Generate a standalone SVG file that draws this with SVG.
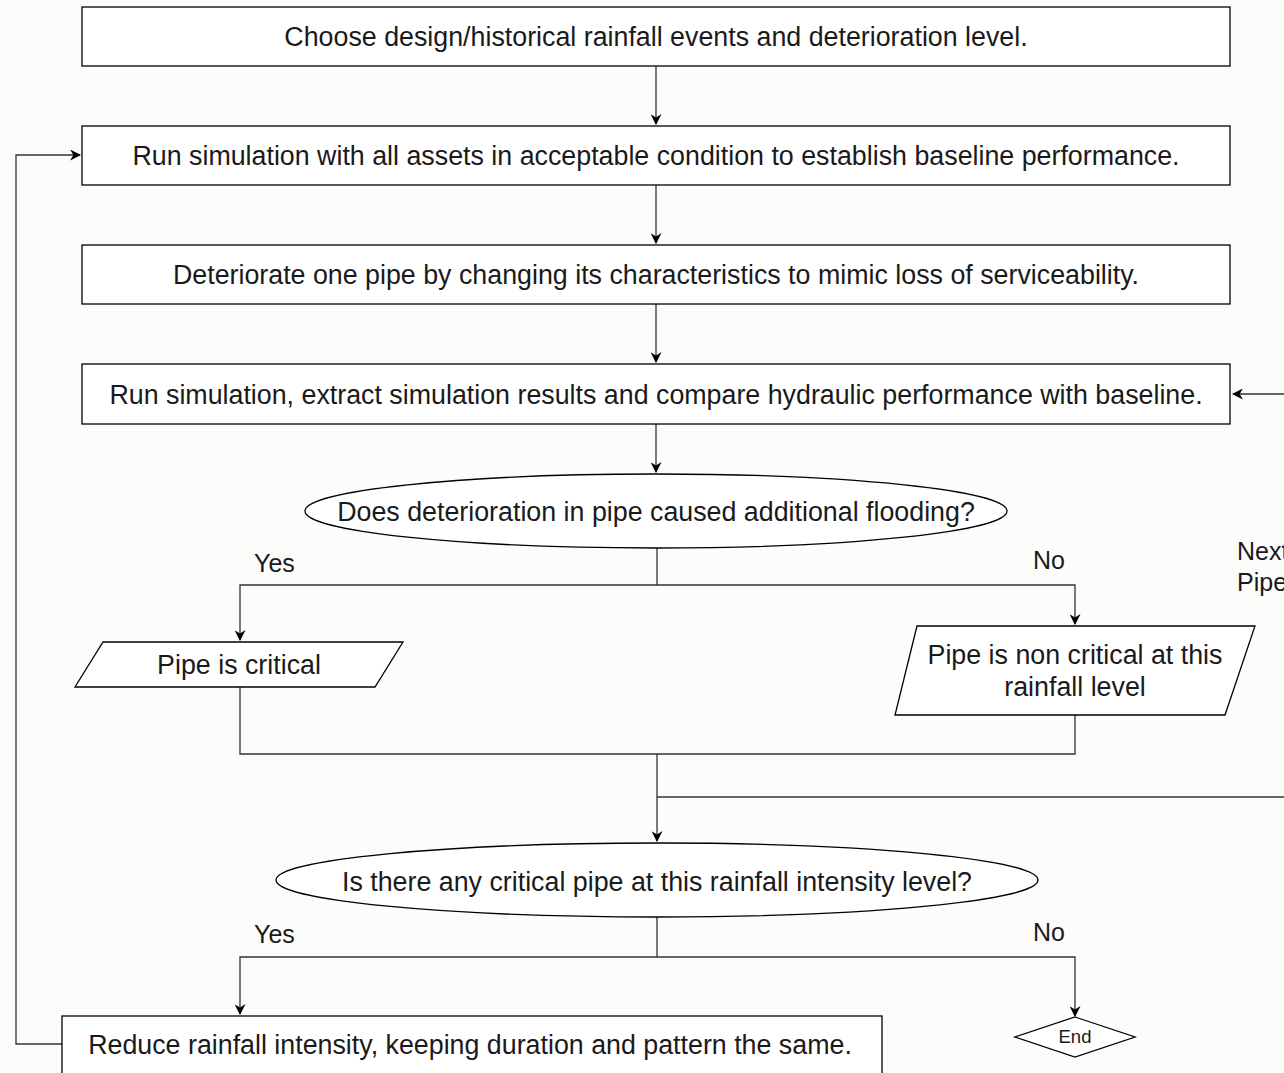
<svg xmlns="http://www.w3.org/2000/svg" width="1284" height="1073" viewBox="0 0 1284 1073">
<defs>
<marker id="arr" viewBox="0 0 10 10" refX="9" refY="5" markerWidth="11" markerHeight="11" markerUnits="userSpaceOnUse" orient="auto">
<path d="M0,0 L10,5 L0,10 L3,5 Z" fill="#000"/>
</marker>
<style>
.box{fill:#fff;stroke:#000;stroke-width:1.3}
.t{font-family:"Liberation Sans",Arial,sans-serif;font-size:26.8px;fill:#1a1a1a;text-anchor:middle}
.l{font-family:"Liberation Sans",Arial,sans-serif;font-size:25px;fill:#1a1a1a}
.c{fill:none;stroke:#333;stroke-width:1.3}
</style>
</defs>
<rect width="1284" height="1073" fill="#fcfcfb"/>
<g id="connectors">
<path class="c" d="M656,66 V124" marker-end="url(#arr)"/>
<path class="c" d="M656,185 V243" marker-end="url(#arr)"/>
<path class="c" d="M656,304 V362" marker-end="url(#arr)"/>
<path class="c" d="M656,424 V472" marker-end="url(#arr)"/>
<path class="c" d="M657,548 V585 H240 V640" marker-end="url(#arr)"/>
<path class="c" d="M657,585 H1075 V624" marker-end="url(#arr)"/>
<path class="c" d="M240,687 V754 H1075 V715"/>
<path class="c" d="M657,754 V841" marker-end="url(#arr)"/>
<path class="c" d="M657,797 H1300 V394 H1233" marker-end="url(#arr)"/>
<path class="c" d="M657,917 V957 H240 V1014" marker-end="url(#arr)"/>
<path class="c" d="M657,957 H1075 V1016" marker-end="url(#arr)"/>
<path class="c" d="M62,1044 H16 V155 H80" marker-end="url(#arr)"/>
<text class="l" x="254" y="572">Yes</text>
<text class="l" x="1033" y="569">No</text>
<text class="l" x="254" y="943">Yes</text>
<text class="l" x="1033" y="941">No</text>
<text class="l" x="1237" y="560">Next</text>
<text class="l" x="1237" y="591">Pipe</text>
</g>
<g id="n1"><rect class="box" x="82" y="7" width="1148" height="59"/><text class="t" x="656" y="45.5">Choose design/historical rainfall events and deterioration level.</text></g>
<g id="n2"><rect class="box" x="82" y="126" width="1148" height="59"/><text class="t" x="656" y="164.5">Run simulation with all assets in acceptable condition to establish baseline performance.</text></g>
<g id="n3"><rect class="box" x="82" y="245" width="1148" height="59"/><text class="t" x="656" y="283.5">Deteriorate one pipe by changing its characteristics to mimic loss of serviceability.</text></g>
<g id="n4"><rect class="box" x="82" y="364" width="1148" height="60"/><text class="t" x="656" y="403.5">Run simulation, extract simulation results and compare hydraulic performance with baseline.</text></g>
<g id="n5"><ellipse class="box" cx="656" cy="511" rx="351" ry="37"/><text class="t" x="656" y="520.5">Does deterioration in pipe caused additional flooding?</text></g>
<g id="n6"><polygon class="box" points="103,642 403,642 375,687 75,687"/><text class="t" x="239" y="673.5">Pipe is critical</text></g>
<g id="n7"><polygon class="box" points="917,626 1255,626 1225,715 895,715"/><text class="t" x="1075" y="663.5">Pipe is non critical at this</text><text class="t" x="1075" y="695.5">rainfall level</text></g>
<g id="n8"><ellipse class="box" cx="657" cy="880" rx="381" ry="37"/><text class="t" x="657" y="890.5">Is there any critical pipe at this rainfall intensity level?</text></g>
<g id="n9"><rect class="box" x="62" y="1016" width="820" height="70"/><text class="t" x="470" y="1053.5">Reduce rainfall intensity, keeping duration and pattern the same.</text></g>
<g id="n10"><polygon class="box" points="1075,1017 1135,1037 1075,1057 1015,1037"/><text class="t" x="1075" y="1042.5" style="font-size:18.5px">End</text></g>
</svg>
